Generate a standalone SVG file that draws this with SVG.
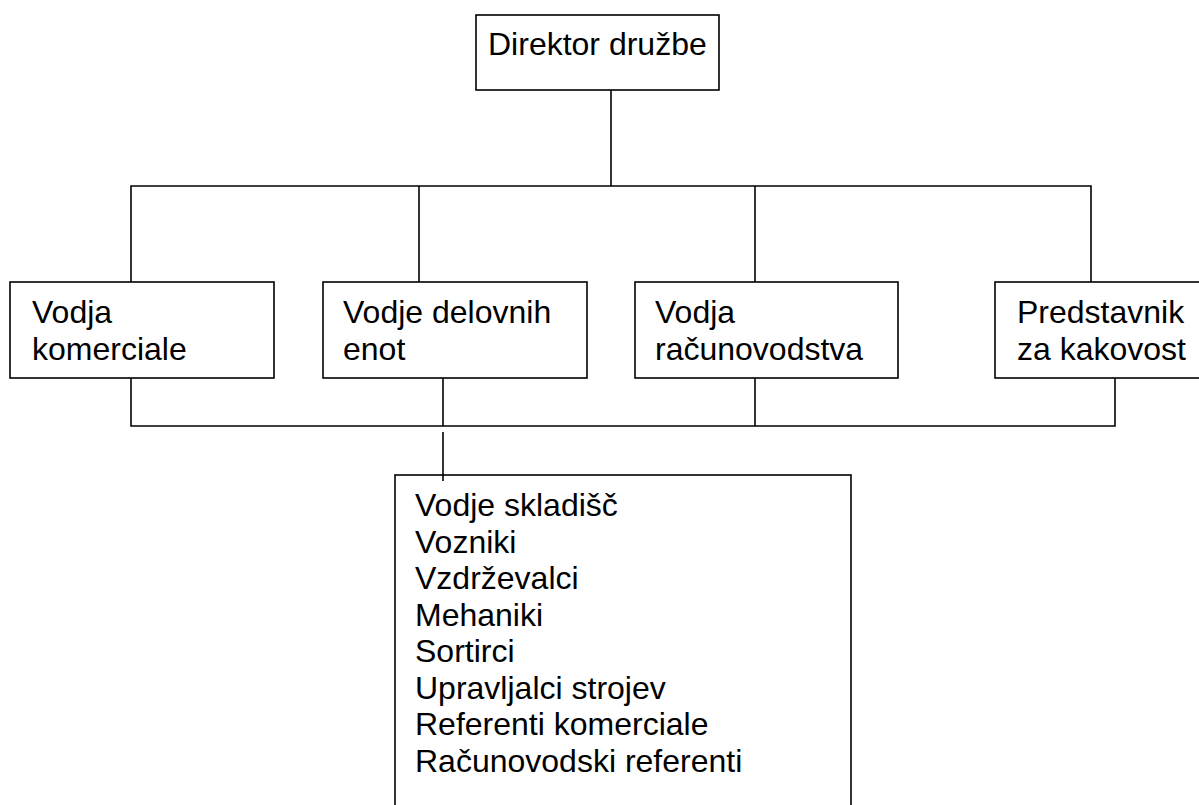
<svg xmlns="http://www.w3.org/2000/svg" width="1199" height="805" viewBox="0 0 1199 805">
<style>
.box{fill:#fff;stroke:#000;stroke-width:1.6}
.ln{fill:none;stroke:#000;stroke-width:1.6}
text{font-family:"Liberation Sans",Arial,sans-serif;font-size:32px;fill:#000}
</style>
<rect width="1199" height="805" fill="#fff"/>
<g id="connectors">
<line class="ln" x1="611" y1="90" x2="611" y2="186"/>
<polyline class="ln" points="131,282 131,186 1091,186 1091,282"/>
<line class="ln" x1="419" y1="186" x2="419" y2="282"/>
<line class="ln" x1="755" y1="186" x2="755" y2="282"/>
<polyline class="ln" points="131,378 131,426 1115,426 1115,378"/>
<line class="ln" x1="443" y1="378" x2="443" y2="426"/>
<line class="ln" x1="755" y1="378" x2="755" y2="426"/>
</g>
<g id="director">
<rect class="box" x="476" y="15" width="243" height="75"/>
<text x="488" y="55">Direktor družbe</text>
</g>
<g id="komerciala">
<rect class="box" x="10" y="282" width="264" height="96"/>
<text x="32" y="323">Vodja</text>
<text x="32" y="360">komerciale</text>
</g>
<g id="delovne-enote">
<rect class="box" x="323" y="282" width="264" height="96"/>
<text x="343" y="323">Vodje delovnih</text>
<text x="343" y="360">enot</text>
</g>
<g id="racunovodstvo">
<rect class="box" x="635" y="282" width="263" height="96"/>
<text x="655" y="323">Vodja</text>
<text x="655" y="360">računovodstva</text>
</g>
<g id="kakovost">
<rect class="box" x="995" y="282" width="210" height="96"/>
<text x="1017" y="323">Predstavnik</text>
<text x="1017" y="360">za kakovost</text>
</g>
<g id="zaposleni">
<rect class="box" x="395" y="475" width="456" height="340"/>
<line class="ln" x1="443" y1="432" x2="443" y2="481"/>
<text x="415" y="516">Vodje skladišč</text>
<text x="415" y="552.5">Vozniki</text>
<text x="415" y="589">Vzdrževalci</text>
<text x="415" y="625.5">Mehaniki</text>
<text x="415" y="662">Sortirci</text>
<text x="415" y="698.5">Upravljalci strojev</text>
<text x="415" y="735">Referenti komerciale</text>
<text x="415" y="771.5">Računovodski referenti</text>
</g>
</svg>
